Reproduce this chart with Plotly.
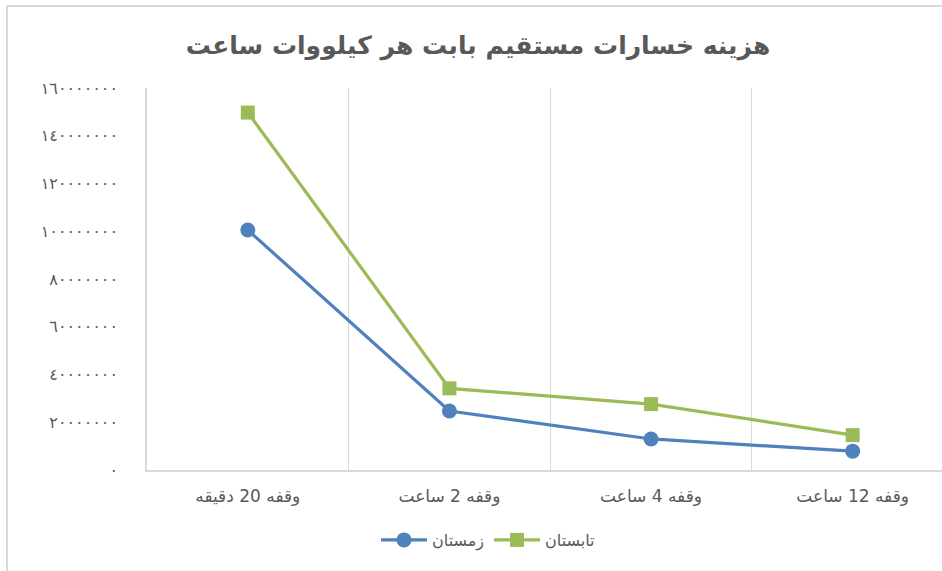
import plotly.graph_objects as go

# ---- data ----
categories = ["وقفه 20 دقیقه", "وقفه 2 ساعت", "وقفه 4 ساعت", "وقفه 12 ساعت"]
winter_name = "زمستان"
summer_name = "تابستان"
winter = [100500000, 24700000, 13000000, 7900000]
summer = [149700000, 34200000, 27600000, 14600000]
y_ticks = [0, 20000000, 40000000, 60000000, 80000000, 100000000, 120000000, 140000000, 160000000]
title_text = "هزینه خسارات مستقیم بابت هر کیلووات ساعت"

AR_DIGITS = str.maketrans("0123456789", "٠١٢٣٤٥٦٧٨٩")
y_tick_text = [str(v).translate(AR_DIGITS) for v in y_ticks]

W, H = 942, 571
L, T, B = 147, 88, 101
plot_w = W - L
plot_h = H - T - B

BLUE = "#4F81BD"
GREEN = "#9BBB59"
GRID = "#D9D9D9"
TXT = "#595959"
FONT = "DejaVu Sans"

fig = go.Figure()
fig.add_trace(go.Scatter(
    x=categories, y=winter, name=winter_name, mode="lines+markers",
    line=dict(color=BLUE, width=3.2),
    marker=dict(symbol="circle", size=15, color=BLUE),
))
fig.add_trace(go.Scatter(
    x=categories, y=summer, name=summer_name, mode="lines+markers",
    line=dict(color=GREEN, width=3.2),
    marker=dict(symbol="square", size=14, color=GREEN),
))

def px_x(px):
    return (px - L) / plot_w

def px_y(py):
    return (H - B - py) / plot_h

fig.update_layout(
    width=W, height=H,
    margin=dict(l=L, r=0, t=T, b=B, pad=0),
    paper_bgcolor="white", plot_bgcolor="white",
    font=dict(family=FONT, color=TXT, size=14),
    title=dict(
        text=title_text, x=478 / W, xref="container", xanchor="center",
        y=1 - 45 / H, yref="container", yanchor="middle",
        font=dict(family=FONT, size=25, color=TXT, weight="bold"),
    ),
    showlegend=True,
    legend=dict(
        orientation="h", x=488 / W, xref="container", xanchor="center",
        y=1 - 540 / H, yref="container", yanchor="middle",
        font=dict(family=FONT, size=16, color=TXT),
        itemwidth=46, bgcolor="rgba(0,0,0,0)",
    ),
    xaxis=dict(
        type="category", range=[-0.5, 3.443], tickson="boundaries",
        showgrid=True, gridcolor=GRID, gridwidth=1,
        showline=True, linecolor=GRID, linewidth=1.5,
        ticks="", tickfont=dict(family=FONT, size=17, color=TXT),
        ticklabelstandoff=10, zeroline=False, fixedrange=True,
    ),
    yaxis=dict(
        range=[0, 160000000], tickvals=y_ticks, ticktext=y_tick_text,
        showgrid=False, showline=True, linecolor=GRID, linewidth=1.5,
        ticks="", tickfont=dict(family=FONT, size=16, color=TXT),
        ticklabelstandoff=24, zeroline=False, fixedrange=True,
    ),
    shapes=[
        dict(type="line", xref="paper", yref="paper",
             x0=px_x(7), x1=px_x(W + 5), y0=px_y(6), y1=px_y(6),
             line=dict(color="#D9D9D9", width=2)),
        dict(type="line", xref="paper", yref="paper",
             x0=px_x(7), x1=px_x(7), y0=px_y(6), y1=px_y(H + 5),
             line=dict(color="#D9D9D9", width=2)),
    ],
)

fig.write_html(
    "out.html",
    config={"displayModeBar": False},
    post_script="document.body.style.margin='0';document.body.style.overflow='hidden';",
)
